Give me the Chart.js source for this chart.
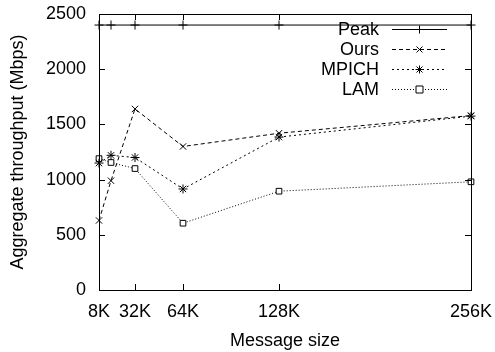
<!DOCTYPE html>
<html>
<head>
<meta charset="utf-8">
<script src="https://cdn.jsdelivr.net/npm/chart.js@4"></script>
<style>
  html, body { margin: 0; padding: 0; background: #fff; }
  #wrap { width: 495px; height: 352px; }
</style>
</head>
<body>
<div id="wrap"><canvas id="chart" width="495" height="352"></canvas></div>
<script>
const sizes = [8, 16, 32, 64, 128, 256];
const xTicks = [8, 32, 64, 128, 256];
const yTicks = [0, 500, 1000, 1500, 2000, 2500];
const peak = [2400, 2400, 2400, 2400, 2400, 2400];
const ours = [630, 990, 1640, 1300, 1420, 1580];
const mpich = [1150, 1220, 1200, 915, 1385, 1575];
const lam = [1190, 1155, 1100, 605, 895, 980];

const FONT = 'Liberation Sans, Arial, Helvetica, sans-serif';
const FSIZE = 18;

function pts(ys) {
  return sizes.map((x, i) => ({ x: x, y: ys[i] }));
}

const series = [
  { label: 'Peak', data: peak, dash: [], style: 'cross' },
  { label: 'Ours', data: ours, dash: [4, 3], style: 'crossRot' },
  { label: 'MPICH', data: mpich, dash: [2, 3], style: 'star' },
  { label: 'LAM', data: lam, dash: [1, 2], style: 'rect' }
];

// gnuplot style frame, inward ticks and legend
const gnuplotFrame = {
  id: 'gnuplotFrame',
  afterDraw(chart) {
    const ctx = chart.ctx;
    const a = chart.chartArea;
    const xs = chart.scales.x, ys = chart.scales.y;
    ctx.save();
    ctx.strokeStyle = '#000';
    ctx.lineWidth = 1;
    ctx.setLineDash([]);
    ctx.strokeRect(a.left + 0.5, a.top + 0.5, a.right - a.left, a.bottom - a.top);
    ctx.beginPath();
    xTicks.forEach(v => {
      const px = Math.round(xs.getPixelForValue(v)) + 0.5;
      ctx.moveTo(px, a.bottom); ctx.lineTo(px, a.bottom - 6);
      ctx.moveTo(px, a.top); ctx.lineTo(px, a.top + 6);
    });
    yTicks.forEach(v => {
      const py = Math.round(ys.getPixelForValue(v)) + 0.5;
      ctx.moveTo(a.left, py); ctx.lineTo(a.left + 6, py);
      ctx.moveTo(a.right, py); ctx.lineTo(a.right - 6, py);
    });
    ctx.stroke();

    // legend
    ctx.font = FSIZE + 'px ' + FONT;
    ctx.textAlign = 'right';
    ctx.textBaseline = 'middle';
    const rowY = [29, 49, 69, 89];
    series.forEach((s, i) => {
      const y = rowY[i] + 0.5;
      ctx.fillStyle = '#000';
      ctx.fillText(s.label, 379, y + 1);
      ctx.setLineDash(s.dash);
      ctx.beginPath();
      ctx.moveTo(392, y); ctx.lineTo(447, y);
      ctx.stroke();
      ctx.setLineDash([]);
      drawMarker(ctx, s.style, 419.5, y);
    });
    ctx.restore();
  }
};

function drawMarker(ctx, style, x, y) {
  const r = 4;
  ctx.beginPath();
  if (style === 'cross') {
    ctx.moveTo(x - r, y); ctx.lineTo(x + r, y);
    ctx.moveTo(x, y - r); ctx.lineTo(x, y + r);
  } else if (style === 'crossRot') {
    ctx.moveTo(x - 3, y - 3); ctx.lineTo(x + 3, y + 3);
    ctx.moveTo(x - 3, y + 3); ctx.lineTo(x + 3, y - 3);
  } else if (style === 'star') {
    ctx.moveTo(x - r, y); ctx.lineTo(x + r, y);
    ctx.moveTo(x, y - r); ctx.lineTo(x, y + r);
    ctx.moveTo(x - 3, y - 3); ctx.lineTo(x + 3, y + 3);
    ctx.moveTo(x - 3, y + 3); ctx.lineTo(x + 3, y - 3);
  } else {
    ctx.fillStyle = '#fff';
    ctx.fillRect(x - 3.5, y - 3.5, 7, 7);
    ctx.rect(x - 3.5, y - 3.5, 7, 7);
  }
  ctx.stroke();
}

const chart = new Chart(document.getElementById('chart'), {
  type: 'line',
  data: {
    datasets: series.map(s => ({
      label: s.label,
      data: pts(s.data),
      borderColor: '#000',
      backgroundColor: '#fff',
      borderWidth: 1,
      borderDash: s.dash,
      pointStyle: s.style,
      pointRadius: s.style === 'rect' ? 4 : 4.5,
      pointBorderColor: '#000',
      pointBackgroundColor: '#fff',
      pointBorderWidth: 1,
      tension: 0,
      fill: false,
      clip: false
    }))
  },
  options: {
    responsive: false,
    animation: false,
    events: [],
    layout: { padding: { left: 0, right: 24, top: 14, bottom: 0 } },
    plugins: { legend: { display: false }, tooltip: { enabled: false } },
    scales: {
      x: {
        type: 'linear',
        min: 8,
        max: 256,
        afterBuildTicks: axis => { axis.ticks = xTicks.map(v => ({ value: v })); },
        afterFit: axis => {
          axis.height = 62;
          axis.paddingLeft = 0;
          axis.paddingRight = 0;
        },
        grid: { display: false, drawTicks: false },
        border: { display: false },
        ticks: {
          color: '#000',
          font: { family: FONT, size: FSIZE },
          padding: 11,
          maxRotation: 0,
          autoSkip: false,
          callback: v => v + 'K'
        },
        title: {
          display: true,
          text: 'Message size',
          color: '#000',
          font: { family: FONT, size: FSIZE },
          padding: { top: 0, bottom: 0 }
        }
      },
      y: {
        min: 0,
        max: 2500,
        afterBuildTicks: axis => { axis.ticks = yTicks.map(v => ({ value: v })); },
        afterFit: axis => {
          axis.width = 99;
          axis.paddingTop = 0;
          axis.paddingBottom = 0;
        },
        grid: { display: false, drawTicks: false },
        border: { display: false },
        ticks: {
          color: '#000',
          font: { family: FONT, size: FSIZE },
          padding: 13,
          callback: v => String(v)
        },
        title: {
          display: true,
          text: 'Aggregate throughput (Mbps)',
          color: '#000',
          font: { family: FONT, size: FSIZE },
          padding: { top: 7, bottom: 0 }
        }
      }
    }
  },
  plugins: [gnuplotFrame]
});
</script>
</body>
</html>
